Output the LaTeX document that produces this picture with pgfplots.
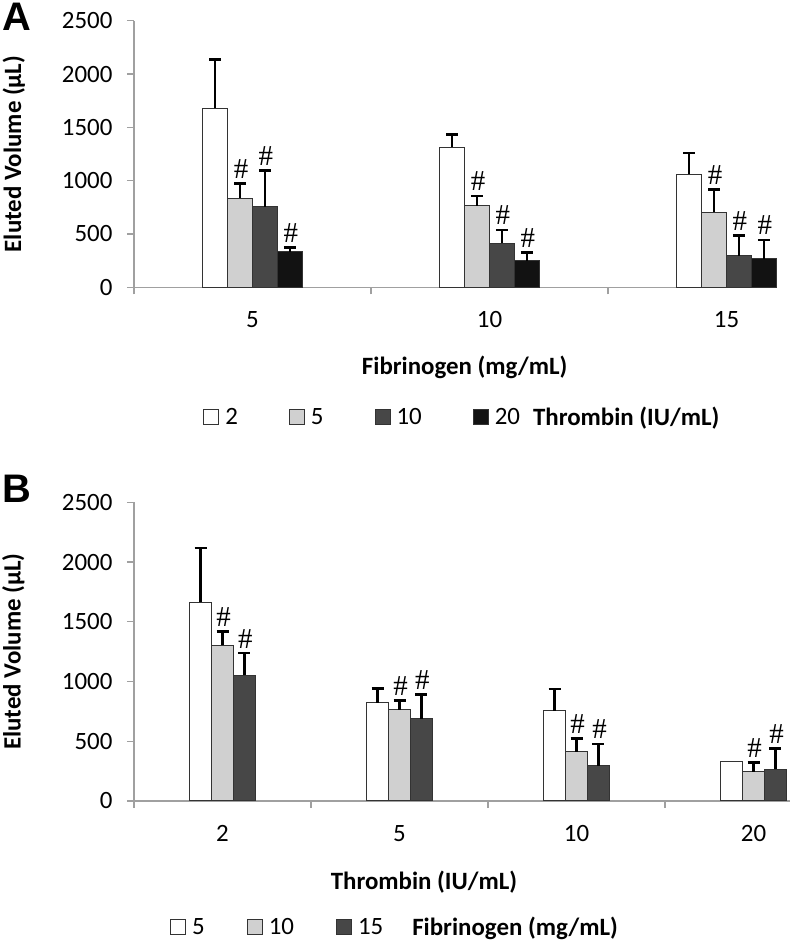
\documentclass[border=0pt]{standalone}
\usepackage{fontspec}
\setmainfont{Carlito}
\newfontfamily\hashfont{Liberation Serif}
\newfontfamily\panelfont{Liberation Sans}
\usepackage{pgfplots}
\pgfplotsset{compat=1.18}
\definecolor{axgray}{HTML}{A0A0A0}
\definecolor{lgray}{HTML}{D0D0D0}
\definecolor{dgray}{HTML}{474747}
\definecolor{blk}{HTML}{121212}
\definecolor{edge}{HTML}{333333}
\pgfplotsset{
  panel/.style={
    scale only axis, ybar,
    axis x line*=bottom, axis y line*=left,
    axis line style={axgray, line width=1.3bp},
    ymin=0, ymax=2500, ytick={0,500,...,2500},
    scaled y ticks=false,
    /pgf/number format/1000 sep={},
    /pgf/number format/assume math mode=true,
    tick style={axgray, line width=1.3bp},
    tick align=outside, major tick length=7bp,
    xtick pos=bottom, ytick pos=left,
    extra x tick style={major tick length=0pt},
    xticklabel style={font=\fontsize{25}{29}\selectfont, yshift=-21bp},
    yticklabel style={font=\fontsize{25}{29}\selectfont, xshift=-11bp},
    legend image code/.code={\draw[##1, draw=edge, line width=1bp] (0bp,-7.5bp) rectangle (15bp,7.5bp);},
    legend style={draw=none, fill=none, font=\fontsize{25}{29}\selectfont, legend columns=-1,
      nodes={inner sep=0pt}},
    clip=false,
  },
  bars/.style={draw=edge, line width=1bp,
    /pgfplots/error bars/y dir=plus, /pgfplots/error bars/y explicit,
    /pgfplots/error bars/error bar style={line width=2.4bp, black, solid},
    /pgfplots/error bars/error mark options={rotate=90, mark size=6bp, line width=2.4bp, black}},
  plain/.style={draw=edge, line width=1bp, forget plot},
  hash/.style={draw=none, fill=none, forget plot, nodes near coords={\hashfont\fontsize{29}{29}\selectfont\#},
    every node near coord/.append style={anchor=south, inner sep=1bp, yshift=4bp, xshift=1bp, text=black}},
}
\begin{document}
\begin{tikzpicture}
\path[use as bounding box] (0bp,0bp) rectangle (792bp,942bp);
\node[font=\panelfont\bfseries\fontsize{40}{40}\selectfont, anchor=north west, inner sep=0pt] at (2bp,939bp) {A};
\node[font=\panelfont\bfseries\fontsize{40}{40}\selectfont, anchor=north west, inner sep=0pt] at (2bp,467bp) {B};
% Panel A
\begin{axis}[panel, at={(134bp,654.7bp)}, anchor=south west, width=636bp, height=266.6bp,
  xmin=-0.5, xmax=2.1835, bar width=0.105,
  xtick={-0.5,0.5,1.5}, xticklabels={},
  extra x ticks={0,1,2}, extra x tick labels={5,10,15},
  ylabel={Eluted Volume (µL)}, xlabel={Fibrinogen (mg/mL)},
  every axis y label/.style={at={(axis description cs:-0.189,0.5)}, rotate=90, anchor=center, font=\bfseries\fontsize{25}{29}\selectfont},
  every axis x label/.style={at={(axis description cs:0.52,-0.299)}, anchor=center, font=\bfseries\fontsize{25}{29}\selectfont},
  legend style={at={(axis description cs:0.104,-0.4865)}, anchor=west,
    /tikz/every odd column/.append style={column sep=6bp},
    /tikz/every even column/.append style={column sep=51bp}},
]
\addplot[bars, fill=white, bar shift=-0.1575] coordinates {(0,1678) +- (0,459) (1,1312) +- (0,119) (2,1059) +- (0,200)};
\addlegendentry{2}
\addplot[bars, fill=lgray, bar shift=-0.0525] coordinates {(0,834) +- (0,141) (1,766) +- (0,90) (2,703) +- (0,213)};
\addlegendentry{5}
\addplot[bars, fill=dgray, bar shift=0.0525] coordinates {(0,756) +- (0,341) (1,412) +- (0,125) (2,297) +- (0,190)};
\addlegendentry{10}
\addplot[bars, fill=blk, bar shift=0.1575] coordinates {(0,331) +- (0,44) (1,250) +- (0,78) (2,266) +- (0,178)};
\addlegendentry{20}
\addlegendimage{empty legend}
\addlegendentry{\hspace*{-44bp}\bfseries Thrombin (IU/mL)}
\addplot[hash, bar shift=-0.0525] coordinates {(0,975) (1,856) (2,916)};
\addplot[hash, bar shift=0.0525] coordinates {(0,1097) (1,537) (2,487)};
\addplot[hash, bar shift=0.1575] coordinates {(0,375) (1,328) (2,444)};
\end{axis}
% Panel B
\begin{axis}[panel, at={(134bp,141bp)}, anchor=south west, width=656bp, height=298.6bp,
  xmin=-0.5, xmax=3.206, bar width=0.124,
  xtick={-0.5,0.5,1.5,2.5}, xticklabels={},
  extra x ticks={0,1,2,3}, extra x tick labels={2,5,10,20},
  ylabel={Eluted Volume (µL)}, xlabel={Thrombin (IU/mL)},
  every axis y label/.style={at={(axis description cs:-0.184,0.5)}, rotate=90, anchor=center, font=\bfseries\fontsize{25}{29}\selectfont},
  every axis x label/.style={at={(axis description cs:0.442,-0.271)}, anchor=center, font=\bfseries\fontsize{25}{29}\selectfont},
  legend style={at={(axis description cs:0.0503,-0.422)}, anchor=west,
    /tikz/every odd column/.append style={column sep=6bp},
    /tikz/every even column/.append style={column sep=42bp}},
]
\addplot[bars, fill=white, bar shift=-0.124] coordinates {(0,1665) +- (0,452) (1,824) +- (0,117) (2,757) +- (0,179)};
\addlegendentry{5}
\addplot[bars, fill=lgray, bar shift=0] coordinates {(0,1304) +- (0,115) (1,765) +- (0,78) (2,411) +- (0,111) (3,243) +- (0,81)};
\addlegendentry{10}
\addplot[bars, fill=dgray, bar shift=0.124] coordinates {(0,1053) +- (0,184) (1,690) +- (0,201) (2,296) +- (0,182) (3,265) +- (0,173)};
\addlegendentry{15}
\addlegendimage{empty legend}
\addlegendentry{\hspace*{-19bp}\bfseries Fibrinogen (mg/mL)}
\addplot[plain, fill=white, bar shift=-0.124] coordinates {(3,327)};
\addplot[hash, bar shift=0] coordinates {(0,1419) (1,843) (2,522) (3,324)};
\addplot[hash, bar shift=0.124] coordinates {(0,1237) (1,891) (2,478) (3,438)};
\end{axis}
\end{tikzpicture}
\end{document}
